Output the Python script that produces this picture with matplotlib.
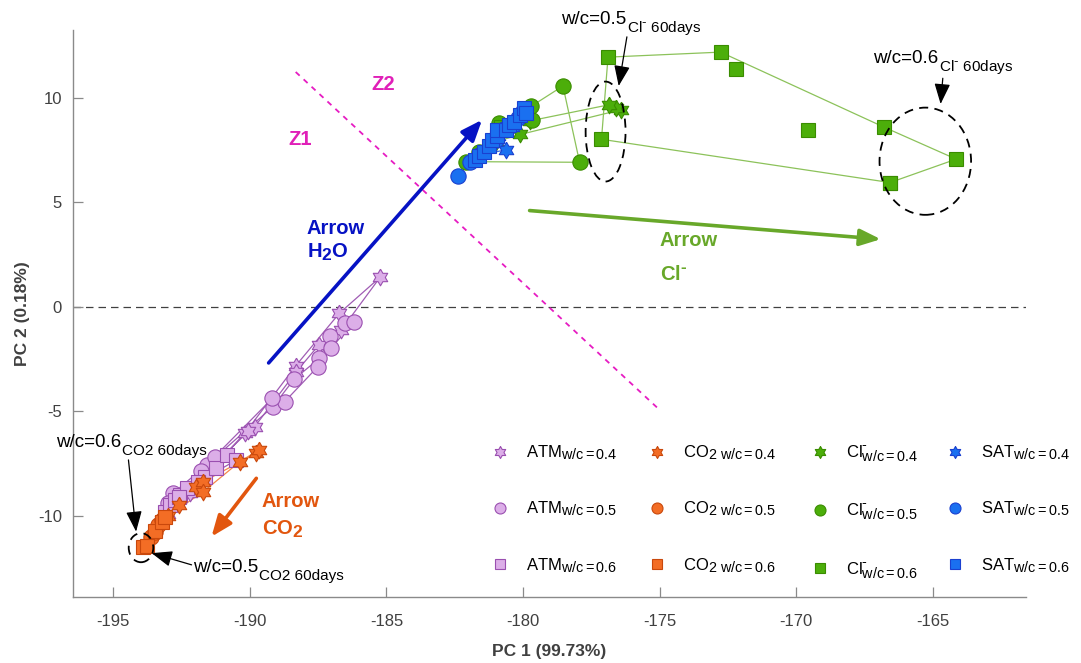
import numpy as np
import matplotlib
matplotlib.use('Agg')
import matplotlib.pyplot as plt
import matplotlib._mathtext as _mt
from matplotlib.patches import Ellipse
from matplotlib.lines import Line2D

plt.rcParams['font.family'] = ['Liberation Sans', 'DejaVu Sans']
plt.rcParams['mathtext.fontset'] = 'custom'
plt.rcParams['mathtext.rm'] = 'Liberation Sans'
plt.rcParams['mathtext.it'] = 'Liberation Sans:italic'
plt.rcParams['mathtext.bf'] = 'Liberation Sans:bold'
plt.rcParams['axes.unicode_minus'] = False
_mt.SHRINK_FACTOR = 0.86

nan = np.nan
HY = '\u2010'  # short hyphen used as the chloride charge sign

# ---------------- data (PC1, PC2) ----------------
atm04_x = [-193.0, -192.2, -190.18, -188.32, -186.72, -185.23, -186.65, -187.47, -188.30, -189.82, -190.05, -192.6]
atm04_y = [-9.9, -8.9, -6.04, -2.82, -0.30, 1.42, -1.10, -1.82, -3.10, -5.73, -5.95, -9.2]

atm05_x = [-192.8, -191.58, -189.15, -188.38, -187.45, -187.06, -186.50, -186.20, -187.02, -187.51, -188.72, -189.17, -191.28, -191.77, -193.0]
atm05_y = [-8.91, -7.56, -4.77, -3.46, -2.46, -1.39, -0.78, -0.70, -1.98, -2.86, -4.53, -4.37, -7.16, -7.87, -9.4]

atm06_x = [-193.1, -192.92, -192.74, -192.55, -192.31, -191.64, -191.22, -190.85, -190.49, -191.9, -192.6]
atm06_y = [-9.8, -9.47, -9.23, -9.0, -8.67, -8.12, -7.72, -7.08, -7.32, -8.4, -9.1]

co204_x = [-193.2, -192.58, -191.95, -191.70, -189.76, -189.66, -190.36, -191.70, -193.0]
co204_y = [-10.2, -9.47, -8.60, -8.36, -7.00, -6.84, -7.40, -8.84, -10.0]

co205_x = [-193.6, -193.47, -193.35, -193.2]
co205_y = [-11.0, -10.75, -10.43, -10.2]

co206_x = [-193.9, -193.75, -193.45, -193.22, -193.10]
co206_y = [-11.47, -11.44, -10.7, -10.3, -10.03]

cl04_x = [-181.0, -180.1, -176.43, -176.60, -176.86, -179.75]
cl04_y = [7.9, 8.25, 9.43, 9.50, 9.67, 8.90]

cl05_x = [-181.6, -180.88, -179.66, -179.70, -178.54, -177.93, -182.09]
cl05_y = [7.4, 8.80, 8.95, 9.60, 10.57, 6.92, 6.95]

cl06_x = [-180.8, nan, -172.20, nan, -169.56, nan, -166.57, -177.13, -176.89, -172.77, -166.79, -164.15, -166.57]
cl06_y = [8.6, nan, 11.39, nan, 8.47, nan, 5.95, 8.02, 11.95, 12.19, 8.60, 7.07, 5.95]

sat04_x = [-181.5, -180.63, -180.9, -180.4]
sat04_y = [7.3, 7.51, 8.2, 8.6]

sat05_x = [-182.37, -181.95, -181.6, -181.0, -180.7, -180.2, -180.0]
sat05_y = [6.28, 6.95, 7.25, 8.0, 8.5, 9.05, 9.35]

sat06_x = [-181.75, -181.6, -181.42, -181.25, -181.12, -180.94, -180.94, -180.63, -180.5, -180.33, -180.1, -179.96, -179.9]
sat06_y = [7.03, 7.2, 7.43, 7.7, 7.99, 8.2, 8.47, 8.47, 8.7, 8.87, 9.2, 9.51, 9.3]

groups = ['ATM', 'CO2', 'Cl', 'SAT']
wc_labels = ['0.4', '0.5', '0.6']
x_ticks = [-195, -190, -185, -180, -175, -170, -165]
y_ticks = [-10, -5, 0, 5, 10]

# ---------------- styles ----------------
ang = np.deg2rad(90 + 30 * np.arange(13))
rad = np.where(np.arange(13) % 2 == 0, 1.0, 0.577)
hexagram = list(zip(rad * np.cos(ang), rad * np.sin(ang)))

colors = {
    'ATM': dict(face='#dcaee8', edge='#9a4fb0', line='#a05cb4'),
    'CO2': dict(face='#f36d25', edge='#c9480c', line='#f5884a'),
    'Cl':  dict(face='#4cae0a', edge='#3a8c00', line='#8cc25a'),
    'SAT': dict(face='#1a70f0', edge='#1a40d0', line='#3a6ad8'),
}
markers = {'0.4': (hexagram, 12), '0.5': ('o', 11), '0.6': ('s', 9.5)}

series = {
    ('ATM', '0.4'): (atm04_x, atm04_y), ('ATM', '0.5'): (atm05_x, atm05_y), ('ATM', '0.6'): (atm06_x, atm06_y),
    ('CO2', '0.4'): (co204_x, co204_y), ('CO2', '0.5'): (co205_x, co205_y), ('CO2', '0.6'): (co206_x, co206_y),
    ('Cl', '0.4'): (cl04_x, cl04_y), ('Cl', '0.5'): (cl05_x, cl05_y), ('Cl', '0.6'): (cl06_x, cl06_y),
    ('SAT', '0.4'): (sat04_x, sat04_y), ('SAT', '0.5'): (sat05_x, sat05_y), ('SAT', '0.6'): (sat06_x, sat06_y),
}

fig = plt.figure(figsize=(10.81, 6.63), dpi=100)
ax = fig.add_axes([0.0675, 0.0995, 0.8815, 0.8553])

for g in groups:
    c = colors[g]
    for wc in wc_labels:
        xs, ys = series[(g, wc)]
        m, ms = markers[wc]
        ax.plot(xs, ys, color=c['line'], lw=0.9, zorder=2)
        ax.plot(xs, ys, ls='none', marker=m, ms=ms, mfc=c['face'], mec=c['edge'], mew=0.8, zorder=3)

ax.set_xlim(-196.47, -161.6)
ax.set_ylim(-13.88, 13.25)
ax.set_xticks(x_ticks)
ax.set_yticks(y_ticks)
for s in ['top', 'right']:
    ax.spines[s].set_visible(False)
for s in ['left', 'bottom']:
    ax.spines[s].set_color('#8a8a8a')
    ax.spines[s].set_linewidth(1.0)
ax.tick_params(direction='in', length=7, width=0.9, color='#8a8a8a', labelcolor='#404040', labelsize=12)
ax.tick_params(axis='x', pad=12)
ax.tick_params(axis='y', pad=8)
ax.set_xlabel('PC 1 (99.73%)', fontsize=12.5, fontweight='bold', color='#404040', labelpad=11)
ax.set_ylabel('PC 2 (0.18%)', fontsize=12.5, fontweight='bold', color='#404040', labelpad=6)

# zero line
ax.axhline(0, color='#404040', lw=0.9, ls=(0, (6, 4)), zorder=1)

# zone separator
ax.plot([-188.32, -175.0], [11.24, -4.93], color='#e61cc2', lw=1.3, ls=(0, (3, 3)), zorder=1)
ax.text(-185.11, 10.62, 'Z2', color='#e020b8', fontsize=14.5, fontweight='bold', ha='center', va='center')
ax.text(-188.15, 8.02, 'Z1', color='#e020b8', fontsize=14.5, fontweight='bold', ha='center', va='center')

# trend arrows
def big_arrow(x0, y0, x1, y1, col):
    ax.annotate('', xy=(x1, y1), xytext=(x0, y0),
                arrowprops=dict(arrowstyle='-|>,head_length=0.7,head_width=0.28', color=col, lw=2.6,
                                shrinkA=0, shrinkB=0, mutation_scale=18), zorder=4)

big_arrow(-189.31, -2.68, -181.5, 8.95, '#0612c4')
big_arrow(-179.76, 4.61, -166.91, 3.24, '#68a82a')
big_arrow(-189.76, -8.2, -191.4, -10.99, '#e2560e')

ax.text(-187.92, 3.49, 'Arrow', color='#0612c4', fontsize=14.5, fontweight='bold', va='baseline')
ax.text(-187.92, 2.34, r'H$_{\mathbf{2}}$O', color='#0612c4', fontsize=14.5, fontweight='bold', va='baseline')
ax.text(-175.0, 2.92, 'Arrow', color='#68a82a', fontsize=14.5, fontweight='bold', va='baseline')
ax.text(-175.0, 1.29, 'Cl$^{\\mathbf{' + HY + '}}$', color='#68a82a', fontsize=14.5, fontweight='bold', va='baseline')
ax.text(-189.57, -9.55, 'Arrow', color='#e2560e', fontsize=14.5, fontweight='bold', va='baseline')
ax.text(-189.57, -10.91, r'CO$_{\mathbf{2}}$', color='#e2560e', fontsize=14.5, fontweight='bold', va='baseline')

# dashed ellipses
for (cx, cy, w, h) in [(-176.98, 8.39, 1.46, 4.78), (-165.28, 6.97, 3.35, 5.13), (-193.98, -11.52, 0.9, 1.39)]:
    ax.add_patch(Ellipse((cx, cy), w, h, fill=False, ec='black', lw=1.3, ls=(0, (5, 3.5)), zorder=5))

# annotations
def note(x0, y0, x1, y1):
    ax.annotate('', xy=(x1, y1), xytext=(x0, y0),
                arrowprops=dict(arrowstyle='-|>,head_length=0.9,head_width=0.35', color='black', lw=0.9,
                                shrinkA=0, shrinkB=0, mutation_scale=14), zorder=6, annotation_clip=False)

note(-176.2, 12.92, -176.5, 10.57)
note(-164.64, 10.94, -164.72, 9.71)
note(-194.44, -7.32, -194.16, -10.75)
note(-192.13, -12.34, -193.59, -11.78)

def label_with_sub(x, y, main, sub):
    t = ax.text(x, y, main, fontsize=13.5, va='baseline', clip_on=False)
    ax.annotate(sub, xy=(1, 0), xycoords=t, xytext=(0.5, -3.0), textcoords='offset points',
                fontsize=11, va='baseline', annotation_clip=False)

cl_sub = 'Cl$^{' + HY + '}$ 60days'
label_with_sub(-178.61, 13.54, 'w/c=0.5', cl_sub)
label_with_sub(-167.19, 11.67, 'w/c=0.6', cl_sub)
label_with_sub(-197.1, -6.68, 'w/c=0.6', 'CO2 60days')
label_with_sub(-192.08, -12.66, 'w/c=0.5', 'CO2 60days')

# legend: 4 columns
label_fmt = {
    'ATM': r'ATM$_{\mathrm{w/c=%s}}$',
    'CO2': r'CO$_{2\ \mathrm{w/c=%s}}$',
    'Cl': 'Cl$^{' + HY + r'}_{\mathrm{w/c=%s}}$',
    'SAT': r'SAT$_{\mathrm{w/c=%s}}$',
}
col_marker_px = [500, 657, 820, 955]
col_center_py = [509, 509, 512, 509]
legs = []
for g, mx, my in zip(groups, col_marker_px, col_center_py):
    c = colors[g]
    handles, labels = [], []
    for wc in wc_labels:
        m, ms = markers[wc]
        handles.append(Line2D([], [], ls='none', marker=m, ms=ms * 0.72, mfc=c['face'], mec=c['edge'], mew=0.8))
        labels.append(label_fmt[g] % wc)
    fs = 12
    fpx = fs * 100 / 72
    left = mx - 0.75 * fpx - 0.4 * fpx - 8
    leg = ax.legend(handles, labels, loc='center left', frameon=False, fontsize=fs,
                    handlelength=1.5, handletextpad=0.8, labelspacing=2.25, borderpad=0.4,
                    bbox_to_anchor=(left / 1081, 1 - my / 663), bbox_transform=fig.transFigure)
    legs.append(leg)
for leg in legs[:-1]:
    ax.add_artist(leg)

fig.savefig('out.png', dpi=100)
